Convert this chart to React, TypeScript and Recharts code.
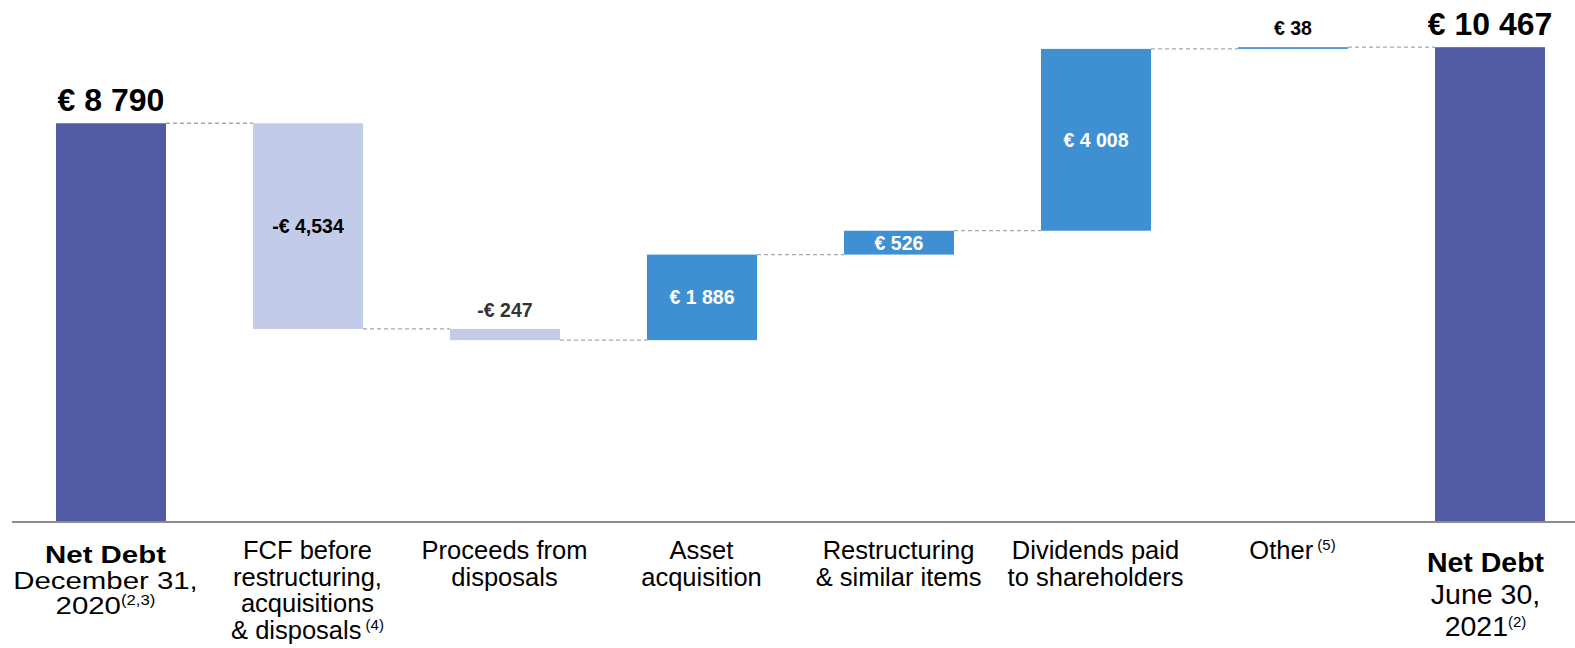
import React from 'react'
import { BarChart, Bar, XAxis, YAxis, LabelList } from 'recharts'

// waterfall steps, in € millions
const categories = ['netDebtStart', 'fcf', 'proceeds', 'asset', 'restructuring', 'dividends', 'other', 'netDebtEnd']
const kinds = ['total', 'delta', 'delta', 'delta', 'delta', 'delta', 'delta', 'total']
const values = [8790, -4534, -247, 1886, 526, 4008, 38, 10467]
const valueLabels = ['€ 8 790', '-€ 4,534', '-€ 247', '€ 1 886', '€ 526', '€ 4 008', '€ 38', '€ 10 467']

type TickLine = { t: string; b?: boolean; sup?: string }
const tickLabels: TickLine[][] = [
  [{ t: 'Net Debt', b: true }, { t: 'December 31,' }, { t: '2020', sup: '(2,3)' }],
  [{ t: 'FCF before' }, { t: 'restructuring,' }, { t: 'acquisitions' }, { t: ' & disposals', sup: ' (4)' }],
  [{ t: 'Proceeds from' }, { t: 'disposals' }],
  [{ t: 'Asset' }, { t: 'acquisition' }],
  [{ t: 'Restructuring' }, { t: '& similar items' }],
  [{ t: 'Dividends paid' }, { t: 'to shareholders' }],
  [{ t: 'Other', sup: ' (5)' }],
  [{ t: 'Net Debt', b: true }, { t: 'June 30,' }, { t: '2021', sup: '(2)' }],
]

// label placement / colours (style only)
const labelPlace = ['top', 'middle', 'top', 'middle', 'middle', 'middle', 'top', 'top']
const labelColor = ['#000', '#000', '#333', '#fff', '#fff', '#fff', '#000', '#000']

const CHART_W = 1588
const CHART_H = 648
const XAXIS_H = 30
const MARGIN = { top: 23, right: 0, bottom: 96, left: 12 }
const BAR_SIZE = 110
const BAND = (CHART_W - MARGIN.left - MARGIN.right) / categories.length
const GAP = BAND - BAR_SIZE
const AXIS_Y = CHART_H - MARGIN.bottom - XAXIS_H

const FONT = '"Liberation Sans", Arial, Helvetica, sans-serif'

let running = 0
const data = categories.map((name, i) => {
  let lo: number
  let hi: number
  if (kinds[i] === 'total') {
    lo = 0
    hi = values[i]
    running = values[i]
  } else {
    const next = running + values[i]
    lo = Math.min(running, next)
    hi = Math.max(running, next)
    running = next
  }
  return { name, range: [lo, hi] }
})

const barFill = (i: number) => {
  if (kinds[i] === 'total') return '#515ba3'
  return values[i] < 0 ? '#c2cce9' : '#3f90d3'
}

const WaterfallBar = (props: any) => {
  const { x, index } = props
  let { y, width, height } = props
  if (height < 0) {
    y = y + height
    height = -height
  }
  const level = kinds[index] === 'delta' && values[index] < 0 ? y + height : y
  return (
    <g>
      <rect x={x} y={y} width={width} height={Math.max(height, 1.5)} fill={barFill(index)} />
      {index < categories.length - 1 && (
        <line
          x1={x + width}
          x2={x + width + GAP}
          y1={level}
          y2={level}
          stroke="#a6a6a6"
          strokeWidth={1.3}
          strokeDasharray="4 3"
        />
      )}
    </g>
  )
}

const ValueLabel = (props: any) => {
  const { x, width, index } = props
  let { y, height } = props
  if (height < 0) {
    y = y + height
    height = -height
  }
  const isTotal = kinds[index] === 'total'
  const size = isTotal ? 32 : 19.5
  const cx = x + width / 2
  const ty = labelPlace[index] === 'top' ? y - 12 : y + height / 2 + 7
  return (
    <text x={cx} y={ty} textAnchor="middle" fontFamily={FONT} fontWeight="bold" fontSize={size} fill={labelColor[index]}>
      {valueLabels[index]}
    </text>
  )
}

const CategoryTick = (props: any) => {
  const { x, payload } = props
  const i = payload.index
  const lines = tickLabels[i]
  const first = i === 0
  const last = i === categories.length - 1
  // the left column is set a bit wider than tall, as in the source slide
  const size = first ? 24.5 : last ? 28.5 : 25.5
  const stretch = first ? 1.2 : 1
  const step = first ? 25.5 : last ? 32 : 26.7
  const start = AXIS_Y + (first ? 41 : last ? 50 : 37)
  const cx = x + (first ? -5 : last ? -4 : 0)
  return (
    <g>
      {lines.map((ln, k) => (
        <text
          key={k}
          transform={`translate(${cx} ${start + k * step}) scale(${stretch} 1)`}
          x={0}
          y={0}
          textAnchor="middle"
          fontFamily={FONT}
          fontSize={size}
          fontWeight={ln.b ? 'bold' : 'normal'}
          fill="#000"
        >
          {ln.t}
          {ln.sup && (
            <tspan fontSize={first ? 14 : 15} dy={-9}>
              {ln.sup}
            </tspan>
          )}
        </text>
      ))}
    </g>
  )
}

export default function App() {
  return (
    <div style={{ position: 'fixed', left: 0, top: 0, width: 1575, height: 648, overflow: 'hidden', background: '#fff' }}>
      <BarChart width={CHART_W} height={CHART_H} data={data} margin={MARGIN} barSize={BAR_SIZE}>
        <XAxis
          dataKey="name"
          height={XAXIS_H}
          interval={0}
          tickLine={false}
          axisLine={{ stroke: '#8c8c8c', strokeWidth: 2 }}
          tick={<CategoryTick />}
        />
        <YAxis hide domain={[0, 11000]} />
        <Bar dataKey="range" isAnimationActive={false} shape={<WaterfallBar />}>
          <LabelList dataKey="range" content={<ValueLabel />} />
        </Bar>
      </BarChart>
    </div>
  )
}
